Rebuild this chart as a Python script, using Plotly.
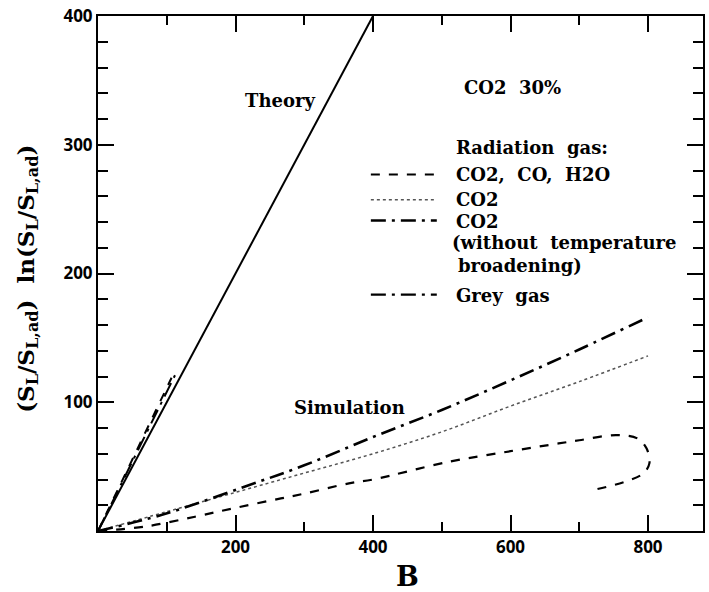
import plotly.graph_objects as go

# ---- data ----
theory_x = [0, 400]
theory_y = [0, 400]

# CO2, CO, H2O (dashed) - turns back near B=800
mix_x = [0, 68, 141, 200, 266, 300, 365, 400, 510, 600, 670, 700, 754, 785, 798, 802, 793, 766, 720]
mix_y = [0, 3.4, 11.1, 18, 25.3, 29, 37, 40, 53.7, 62, 68, 70.5, 74.5, 71.8, 64, 52.5, 44.7, 38.2, 31.8]

# CO2 (dotted)
co2_x = [0, 100, 200, 300, 400, 500, 600, 700, 800]
co2_y = [0, 15, 30, 45, 60, 77, 97, 116, 136]

# CO2 without temperature broadening (dash-dot)
co2nb_x = [0, 92, 213, 300, 400, 500, 600, 700, 800]
co2nb_y = [0, 12.4, 34.4, 51, 73, 94, 117, 141, 166]

# Grey gas and near-theory dashed segment
grey_x = [0, 112]
grey_y = [0, 121]
near_x = [0, 107]
near_y = [0, 119]

x_ticks = [200, 400, 600, 800]
x_minor = [100, 300, 500, 700]
y_ticks = [100, 200, 300, 400]
y_minor = [v for v in range(20, 400, 20) if v % 100 != 0]

FONT = "DejaVu Serif"
BLK = "black"

fig = go.Figure()
fig.add_trace(go.Scatter(x=theory_x, y=theory_y, mode="lines",
                         line=dict(color=BLK, width=2)))
fig.add_trace(go.Scatter(x=near_x, y=near_y, mode="lines",
                         line=dict(color=BLK, width=2, dash="dash")))
fig.add_trace(go.Scatter(x=grey_x, y=grey_y, mode="lines",
                         line=dict(color=BLK, width=2, dash="longdashdot")))
fig.add_trace(go.Scatter(x=mix_x, y=mix_y, mode="lines", line_shape="spline",
                         line=dict(color=BLK, width=2.2, dash="dash")))
fig.add_trace(go.Scatter(x=co2_x, y=co2_y, mode="lines", line_shape="spline",
                         line=dict(color="#555555", width=1.5, dash="dot")))
fig.add_trace(go.Scatter(x=co2nb_x, y=co2nb_y, mode="lines", line_shape="spline",
                         line=dict(color=BLK, width=2.6, dash="longdashdot")))

fig.update_layout(
    width=709, height=592,
    margin=dict(l=98, r=4, t=15, b=61),
    plot_bgcolor="white",
    showlegend=False,
    xaxis=dict(range=[0, 880], tickmode="array", tickvals=x_ticks,
               ticktext=["<b>%d</b>" % v for v in x_ticks],
               showline=True, linecolor=BLK, linewidth=2, mirror="allticks",
               ticks="inside", ticklen=16, tickwidth=1.5, tickcolor=BLK,
               showgrid=False, zeroline=False,
               tickfont=dict(size=17, color=BLK),
               minor=dict(ticks="inside", tickvals=x_minor, ticklen=9,
                          tickcolor=BLK, tickwidth=1.5)),
    yaxis=dict(range=[0, 400], tickmode="array", tickvals=y_ticks,
               ticktext=["<b>%d</b>" % v for v in y_ticks],
               showline=True, linecolor=BLK, linewidth=2, mirror="allticks",
               ticks="inside", ticklen=16, tickwidth=1.5, tickcolor=BLK,
               showgrid=False, zeroline=False,
               tickfont=dict(size=17, color=BLK),
               minor=dict(ticks="inside", tickvals=y_minor, ticklen=10,
                          tickcolor=BLK, tickwidth=1.5)),
)

def txt(x, y, s, size=18, xanchor="center", angle=0):
    fig.add_annotation(x=x, y=y, xref="paper", yref="paper", text="<b>" + s + "</b>",
                       showarrow=False, xanchor=xanchor, yanchor="middle",
                       textangle=angle,
                       font=dict(family=FONT, size=size, color=BLK))

NB = "\u00a0"
txt(0.301, 0.835, "Theory")
txt(0.415, 0.240, "Simulation")
txt(0.601, 0.862, "CO2" + NB + NB + "30%", xanchor="left")
txt(0.589, 0.744, "Radiation" + NB + NB + "gas:", xanchor="left")
txt(0.589, 0.692, "CO2," + NB + NB + "CO," + NB + NB + "H2O", xanchor="left")
txt(0.589, 0.643, "CO2", xanchor="left")
txt(0.589, 0.601, "CO2", xanchor="left")
txt(0.582, 0.560, "(without" + NB + NB + "temperature", xanchor="left")
txt(0.591, 0.516, "broadening)", xanchor="left")
txt(0.589, 0.457, "Grey" + NB + NB + "gas", xanchor="left")

# legend line samples
leg = [(0.692, "dash", 2, BLK), (0.643, "dot", 1.5, "#555555"),
       (0.603, "longdashdot", 2.4, BLK), (0.459, "longdashdot", 2.2, BLK)]
for yy, d, w, c in leg:
    fig.add_shape(type="line", xref="paper", yref="paper", x0=0.451, x1=0.560,
                  y0=yy, y1=yy, line=dict(color=c, width=w, dash=d))

# axis titles
txt(0.511, -0.089, "B", size=27)
txt(-0.117, 0.49,
    "(S<sub>L</sub>/S<sub>L,ad</sub>)" + NB + NB + "ln(S<sub>L</sub>/S<sub>L,ad</sub>)",
    size=23, angle=-90)

fig.write_html("out.html")
